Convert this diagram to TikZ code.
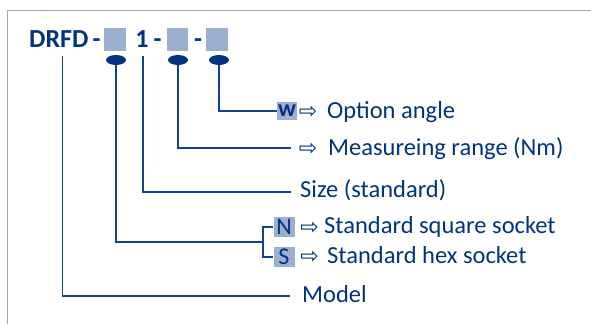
\documentclass[tikz,border=0pt]{standalone}
\usepackage{fontspec}
\setmainfont{Carlito}
\newfontfamily\arrowfont{DejaVu Sans}
\usetikzlibrary{shapes.geometric}
\definecolor{navy}{RGB}{0,51,128}
\definecolor{wireblue}{RGB}{20,64,145}
\definecolor{slotblue}{RGB}{155,176,206}
\definecolor{framegray}{RGB}{165,168,170}

\begin{document}
\begin{tikzpicture}[x=1pt,y=-1pt,
        every node/.style={inner sep=0pt,text=navy},
        lbl/.style={anchor=base west,font=\fontsize{24.5}{24.5}\selectfont},
        head/.style={anchor=base,font=\bfseries\fontsize{26}{26}\selectfont},
        slot/.style={fill=slotblue,minimum width=22pt,minimum height=23pt},
        letterbox/.style={fill=slotblue,minimum width=21pt,minimum height=20pt,font=\fontsize{24}{24}\selectfont},
        dot/.style={ellipse,fill=navy,minimum width=20pt,minimum height=10pt},
        wire/.style={draw=wireblue,line width=1.3pt},
        pointer/.style={font=\arrowfont\fontsize{22}{22}\selectfont}]
    \useasboundingbox (0,0) rectangle (591,324);
    \draw[framegray,line width=1.5pt] (7.5,324) -- (7.5,10.5) -- (591,10.5);

    % type code
    \node[head,anchor=base west] (drfd) at (29,47) {DRFD};
    \node[head] (h1) at (96.5,47) {-};
    \node[slot] (s1) at (115,39.5) {};
    \node[head] (one) at (142,47) {1};
    \node[head] (h2) at (157.5,47) {-};
    \node[slot,minimum width=21pt] (s2) at (177.5,39.5) {};
    \node[head] (h3) at (198,47) {-};
    \node[slot] (s3) at (217,39.5) {};

    \node[dot] (d1) at (116,60) {};
    \node[dot] (d2) at (178,60) {};
    \node[dot] (d3) at (219,60) {};
    \coordinate (m0) at (62.5,56);
    \coordinate (z0) at (143,56);

    % option
    \node[letterbox,minimum width=20pt,minimum height=18pt,font=\bfseries\fontsize{24}{24}\selectfont] (wbox) at (287,111) {w};
    \node[pointer] (p1) at (308,112) {⇨};
    \node[lbl] (opt) at (327,118) {Option angle};

    % range
    \coordinate (e2) at (291,148);
    \node[pointer] (p2) at (308,149) {⇨};
    \node[lbl] (meas) at (328,155) {Measureing range (Nm)};

    % size
    \coordinate (e3) at (291,192);
    \node[lbl] (size) at (300,197) {Size (standard)};

    % socket
    \coordinate (brk) at (263,242);
    \node[letterbox] (nbox) at (284,227) {N};
    \node[letterbox] (sbox) at (284,257) {S};
    \node[pointer] (p3) at (309.5,228) {⇨};
    \node[pointer] (p4) at (309.5,257) {⇨};
    \node[lbl] (sq) at (324,233) {Standard square socket};
    \node[lbl] (hex) at (327,263) {Standard hex socket};

    % model
    \coordinate (e6) at (290,296);
    \node[lbl] (model) at (302,302) {Model};

    \draw[wire] (d3) |- (wbox);
    \draw[wire] (d2) |- (e2);
    \draw[wire] (z0) |- (e3);
    \draw[wire] (d1) |- (brk);
    \draw[wire] (nbox) -| (brk) |- (sbox);
    \draw[wire] (m0) |- (e6);
\end{tikzpicture}
\end{document}
